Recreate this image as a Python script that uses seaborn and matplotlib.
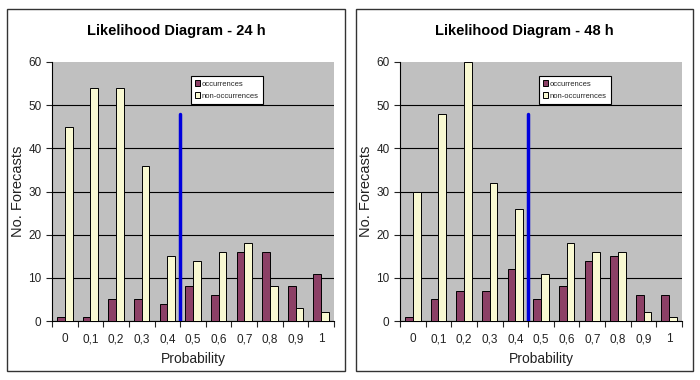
import pandas as pd
import numpy as np
import seaborn as sns
import matplotlib.pyplot as plt
from matplotlib.patches import Rectangle

probs = ["0", "0,1", "0,2", "0,3", "0,4", "0,5", "0,6", "0,7", "0,8", "0,9", "1"]

occ_24 = [1, 1, 5, 5, 4, 8, 6, 16, 16, 8, 11]
non_24 = [45, 54, 54, 36, 15, 14, 16, 18, 8, 3, 2]

occ_48 = [1, 5, 7, 7, 12, 5, 8, 14, 15, 6, 6]
non_48 = [30, 48, 60, 32, 26, 11, 18, 16, 16, 2, 1]

threshold_pos = 4.5   # between 0,4 and 0,5
threshold_top = 48

sns.set_style("white")
plt.rcParams["font.family"] = ["Liberation Sans", "DejaVu Sans"]

fig = plt.figure(figsize=(7.0, 3.8), dpi=100)
W, H = 700, 380

panels = [
    ("Likelihood Diagram - 24 h", occ_24, non_24, 7, 345, 52, 334),
    ("Likelihood Diagram - 48 h", occ_48, non_48, 356, 693, 400, 682),
]

for title, occ, non, fx0, fx1, ax0, ax1_ in panels:
    # chart frame
    fig.patches.append(Rectangle((fx0 / W, 1 - 371 / H), (fx1 - fx0) / W, (371 - 9) / H,
                                 transform=fig.transFigure, fill=False,
                                 edgecolor="#333333", linewidth=1.0))
    fig.text((fx0 + fx1) / 2 / W, 1 - 31 / H, title, ha="center", va="center",
             fontsize=10.5, fontweight="bold", color="black")

    ax = fig.add_axes([ax0 / W, 1 - 321 / H, (ax1_ - ax0) / W, (321 - 62) / H])
    df = pd.DataFrame({
        "Probability": probs * 2,
        "count": occ + non,
        "kind": ["occurrences"] * len(probs) + ["non-occurrences"] * len(probs),
    })
    sns.barplot(data=df, x="Probability", y="count", hue="kind", ax=ax,
                palette=["#993366", "#FFFFCC"], width=0.6, edgecolor="black",
                linewidth=0.7, zorder=3)
    ax.plot([threshold_pos, threshold_pos], [0, threshold_top], color="#0000DD",
            linewidth=2.5, zorder=4)

    ax.set_facecolor("#C0C0C0")
    ax.set_xlim(-0.5, len(probs) - 0.5)
    ax.set_ylim(0, 60)
    ax.set_yticks(range(0, 61, 10))
    ax.yaxis.grid(True, color="black", linewidth=0.8, zorder=1)
    ax.set_axisbelow(True)
    ax.yaxis.get_gridlines()[-1].set_visible(False)
    for s in ["top", "right"]:
        ax.spines[s].set_visible(False)
    for s in ["left", "bottom"]:
        ax.spines[s].set_color("black")
        ax.spines[s].set_linewidth(0.8)
    ax.set_xticks(np.arange(-0.5, len(probs)), minor=True)
    ax.tick_params(axis="x", which="major", length=0, pad=9, labelsize=8.5,
                   colors="#222222")
    ax.tick_params(axis="x", which="minor", length=4, width=0.8, direction="out",
                   bottom=True)
    ax.tick_params(axis="y", length=4, width=0.8, direction="out", left=True,
                   labelsize=8.5, colors="#222222")
    ax.set_xlabel("Probability", fontsize=10, labelpad=5, color="#222222")
    ax.set_ylabel("No. Forecasts", fontsize=10.5, color="#222222")
    ax.yaxis.set_label_coords(-0.094, 0.5)

    leg = ax.legend(loc="upper left", bbox_to_anchor=(0.48, 0.96), fontsize=5.5,
                    frameon=True, fancybox=False, handlelength=0.6,
                    handleheight=0.8, borderpad=0.5, labelspacing=0.6,
                    handletextpad=0.3, title=None)
    leg.get_frame().set_edgecolor("black")
    leg.get_frame().set_linewidth(0.8)
    leg.get_frame().set_facecolor("white")
    leg.get_frame().set_alpha(1)

fig.savefig("out.png", dpi=100)
